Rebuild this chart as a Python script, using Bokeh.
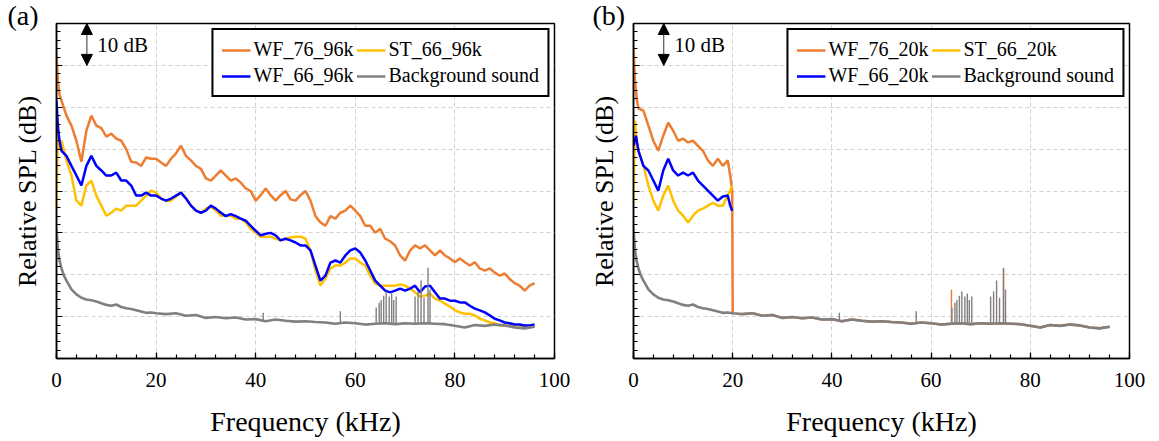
from bokeh.plotting import figure
from bokeh.layouts import row
from bokeh.models import (Range1d, SingleIntervalTicker, Legend, LegendItem,
                          Label, Arrow, NormalHead)
from bokeh.embed import file_html
from bokeh.resources import INLINE

# ---------------- data (relative SPL in dB, frequency in kHz) ----------------
wf76_96_f = [0, 0.3, 0.6] + list(range(1, 97))
wf76_96_v = [73, 66, 63, 61.6, 58, 55.6, 52, 47, 54.4, 58, 55.6, 55, 53, 53.7, 52.5, 52, 50, 47,
             46.8, 46, 48, 47.7, 47.7, 46.8, 46, 47.7, 49, 50.8, 48.4, 47.3, 46, 45.3, 43, 42.5,
             43.7, 44.9, 43.7, 42.5, 43, 42, 40.6, 40, 37.7, 39, 40.6, 39, 37.7, 39, 40, 38, 37.7,
             39, 40, 37.7, 34, 32.5, 31.7, 34, 33.4, 34.8, 35.3, 36.5, 35.3, 34, 31.7, 31.7, 30,
             31, 28.6, 28, 27, 24.6, 23.4, 25.8, 27, 26.3, 27, 25.8, 24.6, 25.8, 24.6, 23.9, 23,
             23.9, 23, 22.2, 23, 21.5, 21, 21.5, 20.5, 19.8, 20.3, 19, 18, 17.4, 16.2, 17.4, 18]

st66_96_f = [0, 0.3, 0.6] + list(range(1, 97))
st66_96_v = [36, 56, 50, 52, 47.3, 43.7, 37.7, 36.5, 41.3, 42.5, 38.9, 36.5, 34.1, 34.8, 35.8,
             35.3, 36.5, 36.5, 36.5, 37.7, 38.9, 40.1, 39.6, 38.2, 37.7, 37.7, 38.7, 39.6, 38.2,
             36.5, 35.3, 34.8, 35.8, 36.3, 35.3, 34.1, 34.1, 34.1, 33.4, 33.4, 32.5, 31, 30, 29.1,
             29.1, 29.1, 28.6, 28.2, 28.6, 28.9, 29.1, 29.1, 28.6, 25.8, 21, 17.4, 19.1, 21.5,
             22.2, 22.2, 22.9, 23.9, 23.9, 22.9, 22.2, 19.8, 17.9, 17.4, 17.4, 17.4, 17.4, 17.7,
             17.4, 16.7, 15.8, 14.8, 15, 15.5, 14.3, 13.8, 13.1, 12.4, 11.5, 11, 10.7, 10.7, 10.3,
             9.5, 9.1, 8.6, 8.4, 7.9, 7.9, 7.9, 7.9, 7.9, 7.6, 7.6, 7.6]

wf66_96_f = [0, 0.3, 0.6] + list(range(1, 97))
wf66_96_v = [61.6, 55, 52, 49.6, 48.4, 46, 43.7, 41.3, 46, 48.4, 46, 44.9, 43.7, 43.7, 44.4,
             42.5, 42.5, 41.3, 38.9, 38.9, 39.6, 38.9, 38.9, 38.2, 37.7, 38.2, 38.9, 39.6, 38.2,
             36.5, 35.3, 34.8, 35.3, 36.5, 35.8, 34.8, 34, 34.5, 34, 33.4, 32.9, 31.7, 30.5, 29.4,
             29.8, 30, 29.4, 28.2, 28.6, 28.2, 27.7, 27, 27, 25.8, 22.2, 18.6, 19.8, 22.9, 23.4,
             22.9, 24.6, 25.8, 26.3, 25.3, 23.4, 21, 18.6, 17.4, 16.2, 15.8, 16.2, 16.7, 16.2,
             16.7, 17.4, 15.8, 17.2, 17.4, 15.8, 14.3, 14.3, 13.8, 13.8, 13.4, 13.4, 12.6, 11.9,
             11.5, 11, 10.3, 9.5, 9.1, 8.6, 8.4, 8.1, 8.1, 7.9, 7.9, 8.1]

bg_f = [0, 0.3, 0.6, 1, 1.5, 2, 3, 4, 5, 6, 7, 8, 9, 10, 11, 12, 13, 14, 15, 16, 17, 18, 19, 20,
        22, 24, 26, 28, 30, 32, 34, 36, 38, 40, 42, 44, 46, 48, 50, 52, 54, 56, 58, 60, 62, 64,
        66, 68, 70, 72, 74, 76, 78, 80, 82, 84, 86, 88, 90, 92, 94, 96]
bg_v = [31, 26, 23.5, 21.5, 19.8, 18.6, 16.5, 15.3, 14.5, 14.1, 13.9, 13.6, 13.2, 12.8, 12.6,
        12.9, 12.3, 12.0, 11.8, 11.5, 11.2, 10.9, 11.0, 10.8, 10.6, 10.8, 10.2, 10.4, 9.7, 9.9,
        9.6, 9.8, 9.3, 9.4, 8.9, 9.3, 9.0, 8.8, 8.9, 8.7, 8.6, 8.3, 8.6, 8.4, 8.1, 8.3, 8.4, 8.2,
        8.4, 8.3, 8.4, 8.3, 8.2, 7.8, 7.4, 8.0, 7.8, 8.1, 7.9, 7.4, 7.2, 7.6]
spike_f = [41.5, 57.0, 64.2, 64.8, 65.2, 65.7, 66.2, 66.8, 67.3, 67.7, 68.2, 72.0, 72.6, 73.2,
           73.8, 74.6, 75.0]
spike_base = [9.2, 8.4, 8.3, 8.3, 8.3, 8.4, 8.4, 8.3, 8.3, 8.2, 8.2, 8.3, 8.3, 8.4, 8.4, 8.4, 8.4]
spike_top = [10.9, 11.3, 12.2, 13.3, 14.0, 15.0, 16.0, 14.8, 15.5, 14.0, 14.8, 14.8, 16.0, 18.6,
             14.5, 21.7, 16.5]

wf76_20_f = [0, 0.3, 0.7] + list(range(1, 20)) + [19.5, 19.9, 20.0]
wf76_20_v = [74.7, 66.3, 61.6, 59.7, 59.2, 55.6, 52, 49.6, 53.2, 56.3, 54.4, 52, 52.5, 51.6, 52,
             50.8, 49.6, 47.3, 46, 47.7, 46, 47.3, 43.7, 40, 10.8]
wf76_20_spike_f = [64.1, 74.6]
wf76_20_spike_base = [8.3, 8.4]
wf76_20_spike_top = [16.5, 21.5]

st66_20_f = [0, 0.3, 0.6] + list(range(1, 20)) + [19.5, 19.9]
st66_20_v = [37, 56.8, 52, 49.6, 46, 41.3, 37.7, 35.3, 38.9, 41.3, 37.7, 35.3, 34.1, 32.5, 34.1,
             35.3, 35.8, 36.5, 37.2, 36.5, 36.5, 38.9, 40.1, 41.3]

wf66_20_f = [0, 0.5] + list(range(1, 20)) + [19.5, 19.9]
wf66_20_v = [50.8, 53.2, 49.6, 46, 44.9, 42.5, 40.1, 44.9, 47.7, 44.9, 43.7, 44.4, 43.7, 44.4,
             42.5, 41.3, 40.1, 38.9, 37.7, 38.7, 38.9, 36.5, 35.3]

x_ticks_interval = 20
y_ticks_interval = 10
y_tick_values = list(range(0, 81, 10))

ORANGE = "#ED7D31"
YELLOW = "#FFC000"
BLUE = "#0000FF"
GRAY = "#808080"
FONT = "Liberation Serif"
LW = 2.5


def make_panel(tag, names, series, width, bl, br, orange_tail=None, orange_spikes=None):
    p = figure(width=width, height=440, output_backend="svg", toolbar_location=None,
               x_range=Range1d(0, 100), y_range=Range1d(0, 80),
               min_border_left=bl, min_border_right=br, min_border_top=23,
               min_border_bottom=82)
    p.title.text = tag
    p.title.align = "left"
    p.title.offset = -(bl - 7)
    p.title.standoff = -14
    p.title.text_font = FONT
    p.title.text_font_size = "28px"
    p.title.text_font_style = "normal"
    p.title.text_color = "black"
    p.outline_line_color = "black"
    p.outline_line_width = 1.5
    p.outline_line_alpha = 1
    p.background_fill_color = "white"
    p.border_fill_color = "white"

    p.xaxis.ticker = SingleIntervalTicker(interval=x_ticks_interval, num_minor_ticks=5)
    p.yaxis.ticker = SingleIntervalTicker(interval=y_ticks_interval, num_minor_ticks=5)
    for ax in (p.xaxis[0], p.yaxis[0]):
        ax.axis_line_color = "black"
        ax.axis_line_width = 1.5
        ax.major_tick_in = 6
        ax.major_tick_out = 0
        ax.minor_tick_in = 4
        ax.minor_tick_out = 0
        ax.major_tick_line_color = "black"
        ax.minor_tick_line_color = "black"
        ax.major_tick_line_width = 1.2
        ax.minor_tick_line_width = 1.2
        ax.axis_label_text_font = FONT
        ax.axis_label_text_font_style = "normal"
        ax.axis_label_text_color = "black"
        ax.major_label_text_font = FONT
        ax.major_label_text_color = "black"

    p.xaxis.axis_label = "Frequency (kHz)"
    p.xaxis.axis_label_text_font_size = "28px"
    p.xaxis.major_label_text_font_size = "21px"
    p.xaxis.major_label_standoff = 14
    p.xaxis.axis_label_standoff = 16

    p.yaxis.axis_label = "Relative SPL (dB)"
    p.yaxis.axis_label_text_font_size = "26px"
    p.yaxis.major_label_overrides = {v: "" for v in y_tick_values}
    p.yaxis.major_label_standoff = 0
    p.yaxis.axis_label_standoff = 15

    for g in (p.xgrid[0], p.ygrid[0]):
        g.grid_line_color = "#D0D0D0"
        g.grid_line_dash = "4 3"
        g.grid_line_width = 1

    (of, ov), (sf, sv), (wf, wv), (bf, bv) = series
    r_o = p.line(of, ov, line_color=ORANGE, line_width=LW)
    if orange_tail is not None:
        p.line(orange_tail[0], orange_tail[1], line_color=ORANGE, line_width=LW)
    if orange_spikes is not None:
        p.segment(orange_spikes[0], orange_spikes[1], orange_spikes[0], orange_spikes[2],
                  line_color=ORANGE, line_width=1.4)
    r_s = p.line(sf, sv, line_color=YELLOW, line_width=LW)
    r_w = p.line(wf, wv, line_color=BLUE, line_width=LW)
    r_b = p.line(bf, bv, line_color=GRAY, line_width=2.6)
    p.segment(spike_f, spike_base, spike_f, spike_top, line_color=GRAY, line_width=1.4)

    legend = Legend(items=[LegendItem(label=names[0], renderers=[r_o]),
                           LegendItem(label=names[1], renderers=[r_s]),
                           LegendItem(label=names[2], renderers=[r_w]),
                           LegendItem(label=names[3], renderers=[r_b])],
                    location="top_right", orientation="horizontal", ncols=2)
    legend.label_text_font = FONT
    legend.label_text_font_size = "20px"
    legend.label_text_color = "black"
    legend.glyph_width = 29
    legend.glyph_height = 18
    legend.label_height = 18
    legend.label_standoff = 3
    legend.padding = 8
    legend.spacing = 3
    legend.margin = 5
    legend.border_line_color = "black"
    legend.border_line_width = 2
    legend.border_line_alpha = 1
    legend.background_fill_color = "white"
    legend.background_fill_alpha = 1
    p.add_layout(legend)

    p.add_layout(Arrow(x_start=6.1, y_start=70, x_end=6.1, y_end=80, line_color="#303030",
                       line_width=1,
                       start=NormalHead(size=11, fill_color="black", line_color="black"),
                       end=NormalHead(size=11, fill_color="black", line_color="black")))
    p.add_layout(Label(x=8.2, y=74.8, text="10 dB", text_font=FONT, text_font_size="21px",
                       text_baseline="middle", text_align="left", text_color="black"))
    return p


tail_f = [f for f in bg_f if f > 20]
tail_v = [v for f, v in zip(bg_f, bg_v) if f > 20]

pa = make_panel("(a)", ["WF_76_96k", "ST_66_96k", "WF_66_96k", "Background sound"],
                [(wf76_96_f, wf76_96_v), (st66_96_f, st66_96_v), (wf66_96_f, wf66_96_v),
                 (bg_f, bg_v)], width=585, bl=56, br=31)
pb = make_panel("(b)", ["WF_76_20k", "ST_66_20k", "WF_66_20k", "Background sound"],
                [(wf76_20_f, wf76_20_v), (st66_20_f, st66_20_v), (wf66_20_f, wf66_20_v),
                 (bg_f, bg_v)], width=570, bl=48, br=26,
                orange_tail=(tail_f, tail_v),
                orange_spikes=(wf76_20_spike_f, wf76_20_spike_base, wf76_20_spike_top))

layout = row(pa, pb)
open("out.html", "w").write(file_html(layout, INLINE))
